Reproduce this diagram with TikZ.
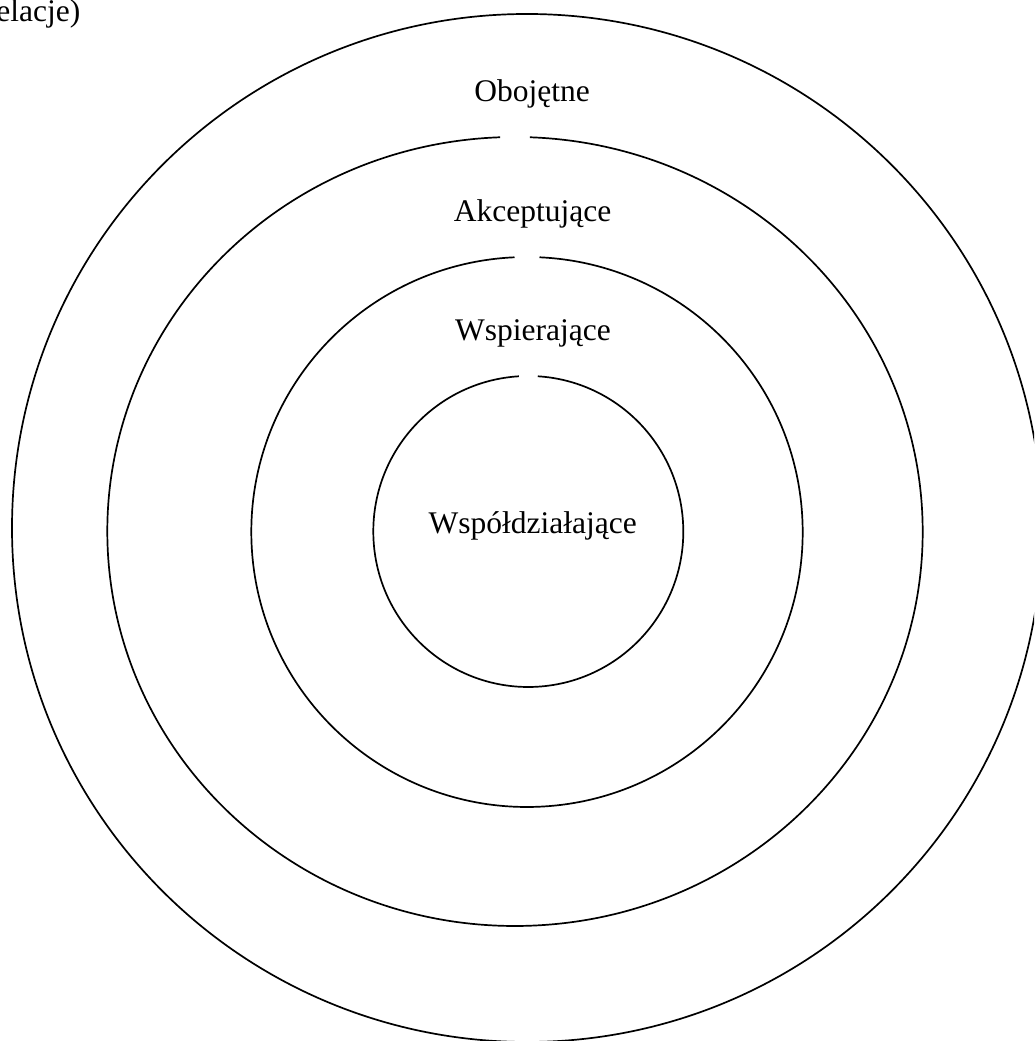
\documentclass[tikz,border=0pt]{standalone}
\usepackage{fontspec}
\setmainfont{Liberation Serif}
\tikzset{
  ring/.style={draw=black, line width=1.7pt},
  lbl/.style={anchor=base, inner sep=0pt, font=\fontsize{31.5}{36}\selectfont},
}
\begin{document}
\begin{tikzpicture}[x=1pt,y=1pt]
\clip (0,0) rectangle (1034,1041);
\fill[white] (0,0) rectangle (1034,1041);
% centres
\coordinate (c1) at (527,513);
\coordinate (c2) at (515,509.5);
\coordinate (c3) at (527,509);
\coordinate (c4) at (528.3,509.5);
% rings
\draw[ring] (c1) ellipse [x radius=515pt, y radius=514pt];
\draw[ring] ([shift={(92.1:407.7pt and 394.5pt)}]c2) arc[start angle=92.1, end angle=447.9, x radius=407.7pt, y radius=394.5pt];
\draw[ring] ([shift={(92.6:275.7pt and 275pt)}]c3) arc[start angle=92.6, end angle=447.4, x radius=275.7pt, y radius=275pt];
\draw[ring] ([shift={(93.5:155pt and 155.5pt)}]c4) arc[start angle=93.5, end angle=446.5, x radius=155pt, y radius=155.5pt];
% labels
\node[lbl, anchor=base east] (title) at (80.5,1019) {elacje)};
\node[lbl] (obo) at (532,939.5) {Obojętne};
\node[lbl] (akc) at (532.5,819.3) {Akceptujące};
\node[lbl] (wsp) at (533,700) {Wspierające};
\node[lbl] (wsd) at (532.7,507.7) {Współdziałające};
\end{tikzpicture}
\end{document}
